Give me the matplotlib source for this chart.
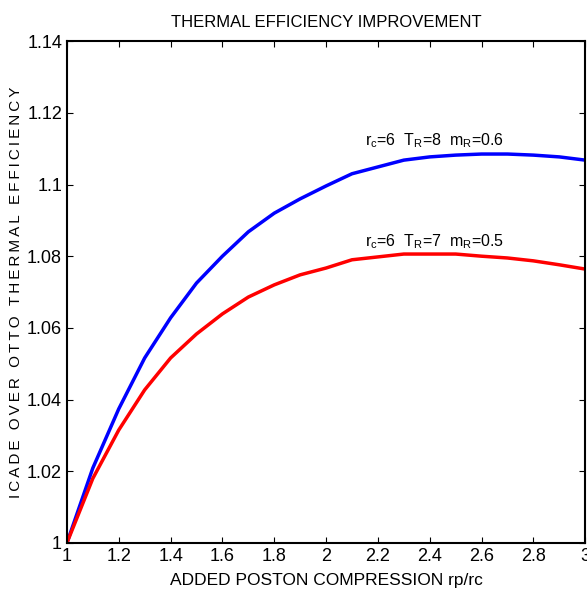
import numpy as np
import matplotlib.pyplot as plt

# razao de compressao adicional rp/rc
rp = [1.0, 1.1, 1.2, 1.3, 1.4, 1.5, 1.6, 1.7, 1.8, 1.9, 2.0,
      2.1, 2.2, 2.3, 2.4, 2.5, 2.6, 2.7, 2.8, 2.9, 3.0]

# rc=6 TR=8 mR=0.6
efic_azul = [1.0, 1.0209, 1.0374, 1.0516, 1.0628, 1.0725, 1.0800, 1.0868,
             1.0920, 1.0960, 1.0996, 1.1030, 1.1049, 1.1068, 1.1077, 1.1082,
             1.1085, 1.1085, 1.1082, 1.1077, 1.1068]

# rc=6 TR=7 mR=0.5
efic_verm = [1.0, 1.0180, 1.0315, 1.0427, 1.0516, 1.0583, 1.0639, 1.0686,
             1.0720, 1.0748, 1.0767, 1.0790, 1.0798, 1.0806, 1.0806, 1.0806,
             1.0800, 1.0795, 1.0787, 1.0776, 1.0764]

plt.rcParams['font.family'] = ['Liberation Sans', 'DejaVu Sans']

fig = plt.figure(figsize=(5.87, 5.96), dpi=100)
ax = fig.add_axes([0.114, 0.089, 0.883, 0.842])

ax.plot(rp, efic_azul, color='#0000ff', linewidth=2.5)
ax.plot(rp, efic_verm, color='#ff0000', linewidth=2.5)

ax.text(2.42, 1.1095, r'r$_\mathregular{c}$=6  T$_\mathregular{R}$=8  m$_\mathregular{R}$=0.6',
        ha='center', va='bottom', fontsize=11.5)
ax.text(2.42, 1.0815, r'r$_\mathregular{c}$=6  T$_\mathregular{R}$=7  m$_\mathregular{R}$=0.5',
        ha='center', va='bottom', fontsize=11.5)

ax.set_xlim(1, 3)
ax.set_ylim(1, 1.14)
ax.set_xticks(np.arange(1, 3.01, 0.2))
ax.set_xticklabels(['1', '1.2', '1.4', '1.6', '1.8', '2', '2.2', '2.4', '2.6', '2.8', '3'])
ax.set_yticks(np.arange(1, 1.141, 0.02))
ax.set_yticklabels(['1', '1.02', '1.04', '1.06', '1.08', '1.1', '1.12', '1.14'])
ax.tick_params(direction='in', top=True, right=True, labelsize=13, length=4, width=0.8)
for s in ax.spines.values():
    s.set_linewidth(1.5)

ax.set_title('THERMAL EFFICIENCY IMPROVEMENT', fontsize=12, pad=10)
ax.set_xlabel('ADDED POSTON COMPRESSION rp/rc', fontsize=12.5, labelpad=6)

# rotulo y com letras espacadas (espaco fino)
rotulo_y = 'ICADE OVER OTTO THERMAL EFFICIENCY'
rotulo_y = '\u2009 \u2009'.join('\u2009'.join(p) for p in rotulo_y.split(' '))
ax.set_ylabel(rotulo_y, fontsize=11)
ax.yaxis.set_label_coords(-0.085, 0.5)

fig.savefig('out.png', dpi=100)
